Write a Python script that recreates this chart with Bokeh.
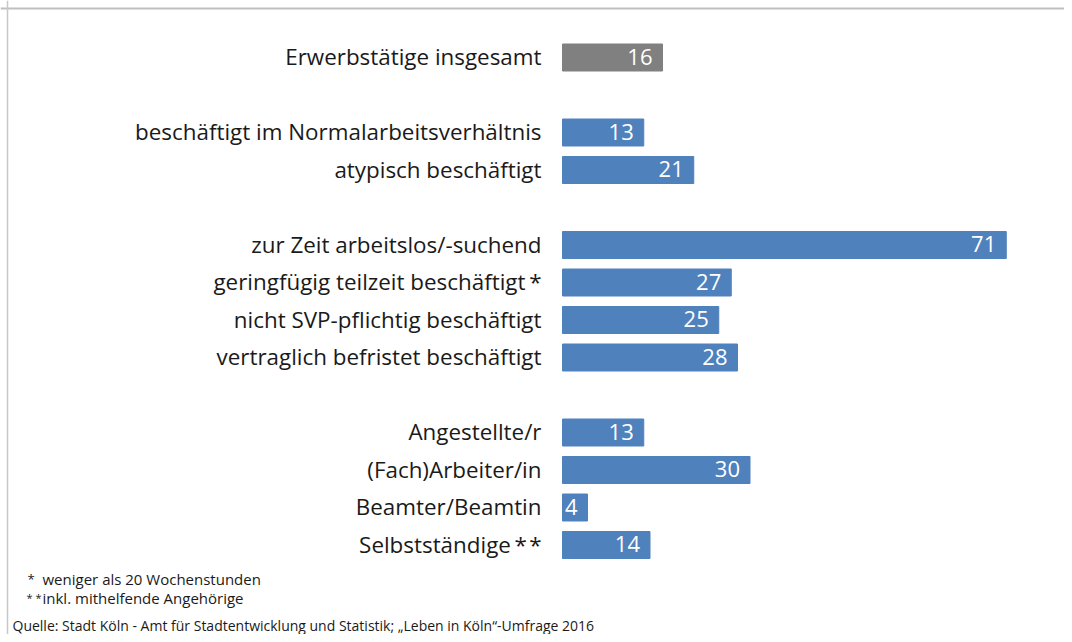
from bokeh.plotting import figure
from bokeh.models import ColumnDataSource, Range1d, Label, Span
from bokeh.embed import file_html
from bokeh.resources import INLINE
from bokeh.core.properties import value

categories = [
    "Erwerbstätige insgesamt",
    "beschäftigt im Normalarbeitsverhältnis",
    "atypisch beschäftigt",
    "zur Zeit arbeitslos/-suchend",
    "geringfügig teilzeit beschäftigt\u2009*",
    "nicht SVP-pflichtig beschäftigt",
    "vertraglich befristet beschäftigt",
    "Angestellte/r",
    "(Fach)Arbeiter/in",
    "Beamter/Beamtin",
    "Selbstständige\u2009*\u200a*",
]
values = [16, 13, 21, 71, 27, 25, 28, 13, 30, 4, 14]
rows = [0, 2, 3, 5, 6, 7, 8, 10, 11, 12, 13]
colors = ["#808080"] + ["#4F81BD"] * 10
value_labels = [str(v) for v in values]

footnote_marks = ["*", "* *"]
footnote_texts = ["weniger als 20 Wochenstunden", "inkl. mithelfende Angehörige"]
source_note = "Quelle: Stadt Köln - Amt für Stadtentwicklung und Statistik; \u201eLeben in Köln\u201c-Umfrage 2016"

W, H = 1064, 634
PX_PER_UNIT = 6.25
X0 = 562  # screen x of value 0
ROW_H = 37.5
Y0 = 57  # screen y (from top) of row 0

src = ColumnDataSource(dict(cat=categories, val=values, row=rows, color=colors, vlab=value_labels))

p = figure(
    width=W, height=H, output_backend="svg", toolbar_location=None,
    x_range=Range1d(-X0 / PX_PER_UNIT, (W - X0) / PX_PER_UNIT),
    y_range=Range1d((H - Y0) / ROW_H, -Y0 / ROW_H),
    min_border=0, outline_line_color=None,
)
p.axis.visible = False
p.grid.visible = False
p.background_fill_color = "white"
p.border_fill_color = "white"

p.hbar(y="row", left=0, right="val", height=0.72, color="color", source=src)

p.text(x=0, y="row", text="cat", source=src, x_offset=-21, y_offset=-1, text_align="right",
       text_baseline="middle", text_font=value("Open Sans"), text_font_size="22.4px",
       text_color="#1a1a1a")
p.text(x="val", y="row", text="vlab", source=src, x_offset=-10, y_offset=-1, text_align="right",
       text_baseline="middle", text_font=value("Open Sans"), text_font_size="22px",
       text_color="white")

# border (top and left)
p.add_layout(Span(location=(8 - Y0) / ROW_H, dimension="width", line_color="#bfbfbf", line_width=2))
p.add_layout(Span(location=(7 - X0) / PX_PER_UNIT, dimension="height", line_color="#c8c8c8", line_width=1.5))

fs = "15px"
for (x, y, t, f) in [(27, 56, footnote_marks[0], "13px"), (42, 56, footnote_texts[0], fs),
                     (26, 37, footnote_marks[1], "11px"), (42, 37, footnote_texts[1], fs)]:
    p.add_layout(Label(x=x, y=y, x_units="screen", y_units="screen", text=t,
                       text_font="Open Sans", text_font_size=f, text_color="#1a1a1a",
                       text_baseline="middle"))
p.add_layout(Label(x=12, y=9, x_units="screen", y_units="screen", text=source_note,
                   text_font="Open Sans", text_font_size="14px", text_color="#1a1a1a",
                   text_baseline="middle"))

open("out.html", "w").write(file_html(p, INLINE))
